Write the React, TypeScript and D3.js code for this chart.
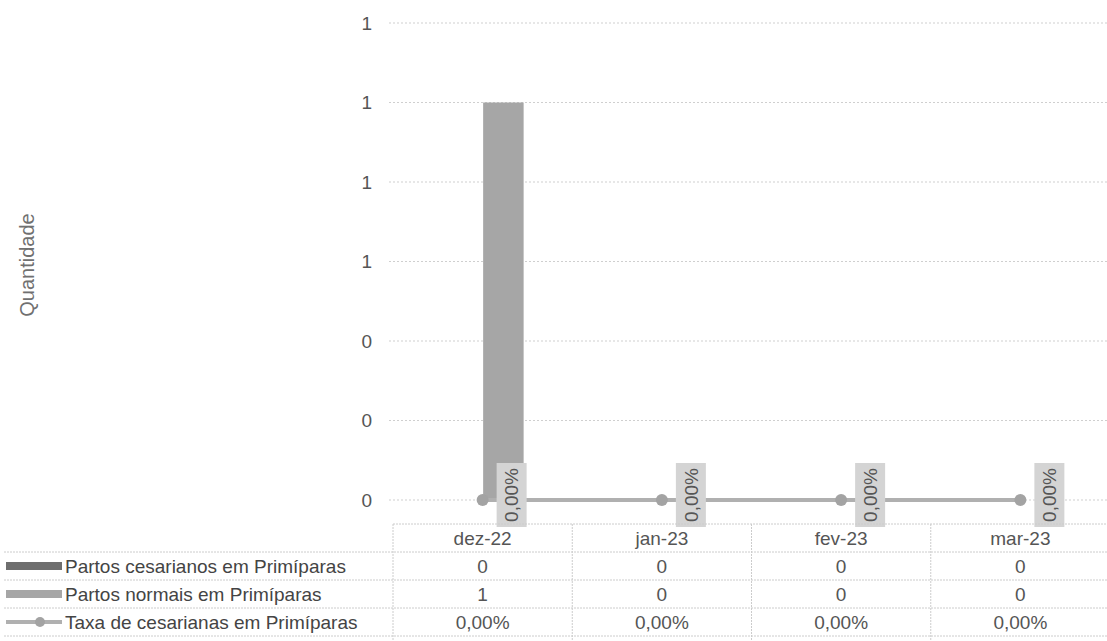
import React, { useEffect, useRef } from "react";
import * as d3 from "d3";

const categories = ["dez-22", "jan-23", "fev-23", "mar-23"];
const seriesNames = [
  "Partos cesarianos em Primíparas",
  "Partos normais em Primíparas",
  "Taxa de cesarianas em Primíparas",
];
const cesarianos = [0, 0, 0, 0];
const normais = [1, 0, 0, 0];
const taxa = [0, 0, 0, 0];
const yTicks = [0, 0.2, 0.4, 0.6, 0.8, 1.0, 1.2];
const yTitle = "Quantidade";

const W = 1107;
const H = 641;
const FONT = "'Liberation Sans', Arial, sans-serif";

export default function App() {
  const ref = useRef<SVGSVGElement | null>(null);

  useEffect(() => {
    const svg = d3.select(ref.current);
    svg.selectAll("*").remove();

    const left = 393;
    const right = 1110;
    const top = 23;
    const bottom = 500;

    const x = d3.scaleBand<string>().domain(categories).range([left, right]);
    const bw = x.bandwidth();
    const barW = 40;
    const inner = d3
      .scaleBand<string>()
      .domain(["c", "n"])
      .range([bw / 2 - barW - 1, bw / 2 + barW + 1])
      .paddingInner(0.025);
    const y = d3.scaleLinear().domain([0, 1.2]).range([bottom, top]);
    const fmt = d3.format(".0f");

    // gridlines
    svg
      .append("g")
      .selectAll("line")
      .data(yTicks)
      .join("line")
      .attr("x1", left - 4)
      .attr("x2", W)
      .attr("y1", (d) => y(d))
      .attr("y2", (d) => y(d))
      .attr("stroke", "#cfcfcf")
      .attr("stroke-width", 1)
      .attr("stroke-dasharray", "2,2");

    // y tick labels
    svg
      .append("g")
      .selectAll("text")
      .data(yTicks)
      .join("text")
      .attr("x", 372)
      .attr("y", (d) => y(d))
      .attr("dy", "0.35em")
      .attr("text-anchor", "end")
      .attr("font-family", FONT)
      .attr("font-size", 19)
      .attr("fill", "#555")
      .text((d) => fmt(d));

    // y axis title
    svg
      .append("text")
      .attr("transform", `translate(34,265) rotate(-90)`)
      .attr("text-anchor", "middle")
      .attr("font-family", FONT)
      .attr("font-size", 20)
      .attr("fill", "#707070")
      .text(yTitle);

    // bars
    const barData = categories.flatMap((c, i) => [
      { c, s: "c", v: cesarianos[i] },
      { c, s: "n", v: normais[i] },
    ]);
    svg
      .append("g")
      .selectAll("rect")
      .data(barData)
      .join("rect")
      .attr("x", (d) => (x(d.c) as number) + (inner(d.s) as number))
      .attr("width", inner.bandwidth())
      .attr("y", (d) => y(d.v))
      .attr("height", (d) => y(0) - y(d.v))
      .attr("fill", (d) => (d.s === "c" ? "#6e6e6e" : "#a6a6a6"));

    // line
    const cx = (c: string) => (x(c) as number) + bw / 2;
    const lineGen = d3
      .line<number>()
      .x((_, i) => cx(categories[i]))
      .y((d) => y(d));
    svg
      .append("path")
      .datum(taxa)
      .attr("d", lineGen)
      .attr("fill", "none")
      .attr("stroke", "#b0b0b0")
      .attr("stroke-width", 4);
    svg
      .append("g")
      .selectAll("circle")
      .data(taxa)
      .join("circle")
      .attr("cx", (_, i) => cx(categories[i]))
      .attr("cy", (d) => y(d))
      .attr("r", 6)
      .attr("fill", "#a3a3a3");

    // data labels (rotated)
    const lab = svg
      .append("g")
      .selectAll("g")
      .data(taxa)
      .join("g")
      .attr(
        "transform",
        (d, i) => `translate(${cx(categories[i]) + 29},${y(d) - 5}) rotate(-90)`
      );
    lab
      .append("rect")
      .attr("x", -32)
      .attr("y", -15)
      .attr("width", 64)
      .attr("height", 30)
      .attr("fill", "#d4d4d4");
    lab
      .append("text")
      .attr("text-anchor", "middle")
      .attr("dy", "0.35em")
      .attr("font-family", FONT)
      .attr("font-size", 19)
      .attr("fill", "#555")
      .text((d) => d3.format(".2f")(d * 100).replace(".", ",") + "%");

    // data table
    const rowTop = 524;
    const rowH = 28;
    const grid = svg.append("g").attr("stroke", "#cccccc").attr("stroke-dasharray", "2,1");
    grid
      .append("line")
      .attr("x1", left)
      .attr("x2", W)
      .attr("y1", rowTop)
      .attr("y2", rowTop);
    [1, 2, 3, 4].forEach((k) => {
      grid
        .append("line")
        .attr("x1", 4)
        .attr("x2", W)
        .attr("y1", rowTop + k * rowH)
        .attr("y2", rowTop + k * rowH);
    });
    const bounds = categories.map((c) => x(c) as number);
    grid
      .selectAll("line.v")
      .data(bounds)
      .join("line")
      .attr("class", "v")
      .attr("x1", (d) => d)
      .attr("x2", (d) => d)
      .attr("y1", rowTop)
      .attr("y2", H);

    const tableText = svg.append("g").attr("font-family", FONT).attr("font-size", 19).attr("fill", "#555");
    tableText
      .selectAll("text.h")
      .data(categories)
      .join("text")
      .attr("class", "h")
      .attr("x", (c) => cx(c))
      .attr("y", rowTop + rowH / 2)
      .attr("dy", "0.35em")
      .attr("text-anchor", "middle")
      .text((c) => c);

    const rows = [
      cesarianos.map((v) => String(v)),
      normais.map((v) => String(v)),
      taxa.map((v) => d3.format(".2f")(v * 100).replace(".", ",") + "%"),
    ];
    rows.forEach((vals, r) => {
      tableText
        .selectAll(`text.r${r}`)
        .data(vals)
        .join("text")
        .attr("class", `r${r}`)
        .attr("x", (_, i) => cx(categories[i]))
        .attr("y", rowTop + rowH * (r + 1) + rowH / 2)
        .attr("dy", "0.35em")
        .attr("text-anchor", "middle")
        .text((d) => d);
    });

    // legend keys in table
    const leg = svg.append("g");
    seriesNames.forEach((name, r) => {
      const cyRow = rowTop + rowH * (r + 1) + rowH / 2;
      if (r < 2) {
        leg
          .append("rect")
          .attr("x", 6)
          .attr("y", cyRow - 4)
          .attr("width", 56)
          .attr("height", 8)
          .attr("fill", r === 0 ? "#6e6e6e" : "#a6a6a6");
      } else {
        leg
          .append("line")
          .attr("x1", 6)
          .attr("x2", 62)
          .attr("y1", cyRow)
          .attr("y2", cyRow)
          .attr("stroke", "#b0b0b0")
          .attr("stroke-width", 4);
        leg
          .append("circle")
          .attr("cx", 40)
          .attr("cy", cyRow)
          .attr("r", 5)
          .attr("fill", "#a3a3a3");
      }
      leg
        .append("text")
        .attr("x", 65)
        .attr("y", cyRow)
        .attr("dy", "0.35em")
        .attr("font-family", FONT)
        .attr("font-size", 19)
        .attr("fill", "#444")
        .text(name);
    });
  }, []);

  return (
    <svg
      ref={ref}
      width={W}
      height={H}
      style={{ position: "absolute", left: 0, top: 0, background: "#fff" }}
    />
  );
}
